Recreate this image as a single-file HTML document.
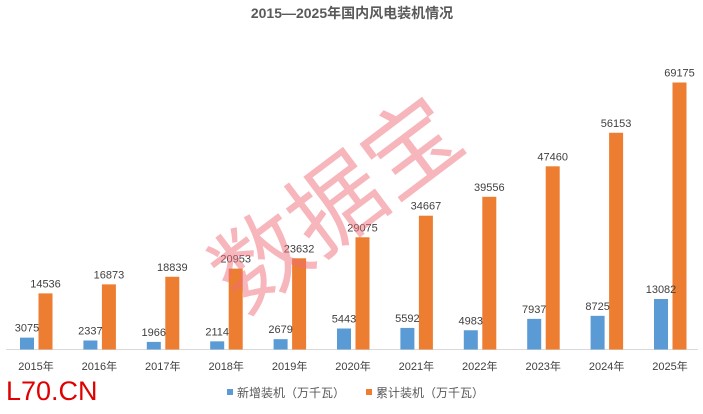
<!DOCTYPE html>
<html><head><meta charset="utf-8"><style>
body{margin:0;background:#fff;}
svg text{font-family:"Liberation Sans","Noto Sans CJK SC",sans-serif;}
</style></head><body>
<svg width="703" height="409" xmlns="http://www.w3.org/2000/svg">
<rect width="703" height="409" fill="#fff"/>
<text x="352" y="18" text-anchor="middle" font-size="14" font-weight="bold" fill="#595959" style='font-family:"Liberation Sans","Noto Sans CJK SC",sans-serif'>2015—2025年国内风电装机情况</text>
<line x1="6" y1="349.5" x2="698" y2="349.5" stroke="#d9d9d9" stroke-width="1"/>
<g id="bars"></g>
<g font-size="11" fill="#404040" text-anchor="middle" id="labels"></g>
<text x="337" y="237" text-anchor="middle" font-size="94" fill="rgba(238,110,120,0.5)" transform="rotate(-37 337 205)" style='font-family:"Noto Sans CJK SC",sans-serif'>数据宝</text>
<rect x="227" y="389" width="6" height="6" fill="#5b9bd5"/>
<text x="237" y="397" font-size="12" fill="#595959">新增装机（万千瓦）</text>
<rect x="366" y="389" width="6" height="6" fill="#ed7d31"/>
<text x="376" y="397" font-size="12" fill="#595959">累计装机（万千瓦）</text>
<text x="6" y="400" font-size="27" fill="#e00000">L70.CN</text>
</svg>
<script>
var n=[3075,2337,1966,2114,2679,5443,5592,4983,7937,8725,13082];
var c=[14536,16873,18839,20953,23632,29075,34667,39556,47460,56153,69175];
var s=267/69175,b=349.5,bars='',lab='';
for(var i=0;i<11;i++){
 var x=20+i*63.4;
 var hn=n[i]*s,hc=c[i]*s;
 bars+='<rect x="'+x+'" y="'+(b-hn)+'" width="14" height="'+hn+'" fill="#5b9bd5"/>';
 bars+='<rect x="'+(x+18.5)+'" y="'+(b-hc)+'" width="14" height="'+hc+'" fill="#ed7d31"/>';
 lab+='<text x="'+(x+7)+'" y="'+(b-hn-6)+'">'+n[i]+'</text>';
 lab+='<text x="'+(x+25.5)+'" y="'+(b-hc-6)+'">'+c[i]+'</text>';
 lab+='<text x="'+(x+16)+'" y="370">'+(2015+i)+'年</text>';
}
document.getElementById('bars').innerHTML=bars;
document.getElementById('labels').innerHTML=lab;
</script>
</body></html>
